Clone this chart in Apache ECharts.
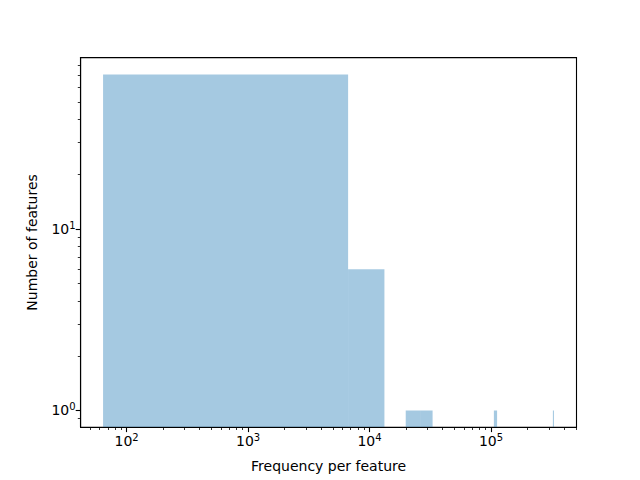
<!DOCTYPE html>
<html><head><meta charset="utf-8">
<script src="https://cdn.jsdelivr.net/npm/echarts@6/dist/echarts.min.js"></script>
<style>html,body{margin:0;padding:0;background:#fff}#c{width:640px;height:480px}</style>
</head><body><div id="c"></div>
<script>
// Histogram bins (only non-empty bins)
const binLeft  = [64, 6664, 19864, 26464, 105664, 323464];
const binRight = [6664, 13264, 26464, 33064, 112264, 330064];
const counts   = [71, 6, 1, 1, 1, 1];

// Axis ticks
const xMajorTicks = [100, 1000, 10000, 100000];
const xMinorTicks = [50, 60, 70, 80, 90,
  200, 300, 400, 500, 600, 700, 800, 900,
  2000, 3000, 4000, 5000, 6000, 7000, 8000, 9000,
  20000, 30000, 40000, 50000, 60000, 70000, 80000, 90000,
  200000, 300000, 400000, 500000];
const yMajorTicks = [1, 10];
const yMinorTicks = [0.9, 2, 3, 4, 5, 6, 7, 8, 9, 20, 30, 40, 50, 60, 70, 80];
const xRange = [41.8, 506000];
const yRange = [0.808, 87.9];

const xTitle = 'Frequency per feature';
const yTitle = 'Number of features';

const FONT = 'DejaVu Sans';
const supFmt = v => '{b|10}{s|' + Math.round(Math.log10(v)) + '}';
const rich = {
  b: {fontFamily: FONT, fontSize: 14, color: '#000'},
  s: {fontFamily: FONT, fontSize: 10, color: '#000', verticalAlign: 'top', padding: [0, 0, 7, 0]}
};

const data = binLeft.map((l, i) => [l, binRight[i], counts[i]]);

const chart = echarts.init(document.getElementById('c'), null, {renderer: 'svg'});
chart.setOption({
  animation: false,
  backgroundColor: '#fff',
  grid: {left: 80.6, right: 63.5, top: 57.6, bottom: 52.8, show: true,
         borderColor: '#000', borderWidth: 1.1, backgroundColor: 'transparent'},
  xAxis: [
    {type: 'log', logBase: 10, min: xRange[0], max: xRange[1], position: 'bottom', z: 10,
     name: xTitle, nameLocation: 'middle', nameGap: 32,
     nameTextStyle: {fontFamily: FONT, fontSize: 14, color: '#000'},
     axisLine: {show: true, lineStyle: {color: '#000', width: 1.1}},
     axisTick: {show: true, length: 4.9, lineStyle: {color: '#000', width: 1.1}, customValues: xMajorTicks},
     axisLabel: {show: true, margin: 5, formatter: supFmt, rich: rich, customValues: xMajorTicks},
     splitLine: {show: false}, minorTick: {show: false}},
    {type: 'log', logBase: 10, min: xRange[0], max: xRange[1], position: 'bottom', z: 10,
     axisLine: {show: false},
     axisTick: {show: true, length: 2.8, lineStyle: {color: '#000', width: 0.8}, customValues: xMinorTicks},
     axisLabel: {show: false}, splitLine: {show: false}}
  ],
  yAxis: [
    {type: 'log', logBase: 10, min: yRange[0], max: yRange[1], position: 'left', z: 10,
     name: yTitle, nameLocation: 'middle', nameGap: 42, nameRotate: 90,
     nameTextStyle: {fontFamily: FONT, fontSize: 14, color: '#000'},
     axisLine: {show: true, lineStyle: {color: '#000', width: 1.1}},
     axisTick: {show: true, length: 4.9, lineStyle: {color: '#000', width: 1.1}, customValues: yMajorTicks},
     axisLabel: {show: true, margin: 5, formatter: supFmt, rich: rich, customValues: yMajorTicks},
     splitLine: {show: false}},
    {type: 'log', logBase: 10, min: yRange[0], max: yRange[1], position: 'left', z: 10,
     axisLine: {show: false},
     axisTick: {show: true, length: 2.8, lineStyle: {color: '#000', width: 0.8}, customValues: yMinorTicks},
     axisLabel: {show: false}, splitLine: {show: false}}
  ],
  series: [{
    type: 'custom',
    xAxisIndex: 0, yAxisIndex: 0,
    clip: true,
    data: data,
    encode: {x: [0, 1], y: 2},
    renderItem: function (params, api) {
      const p0 = api.coord([api.value(0), api.value(2)]);
      const p1 = api.coord([api.value(1), yRange[0]]);
      return {
        type: 'rect',
        shape: {x: p0[0], y: p0[1], width: p1[0] - p0[0], height: p1[1] - p0[1]},
        style: {fill: 'rgba(31,119,180,0.4)'}
      };
    }
  }]
});
</script>
</body></html>
